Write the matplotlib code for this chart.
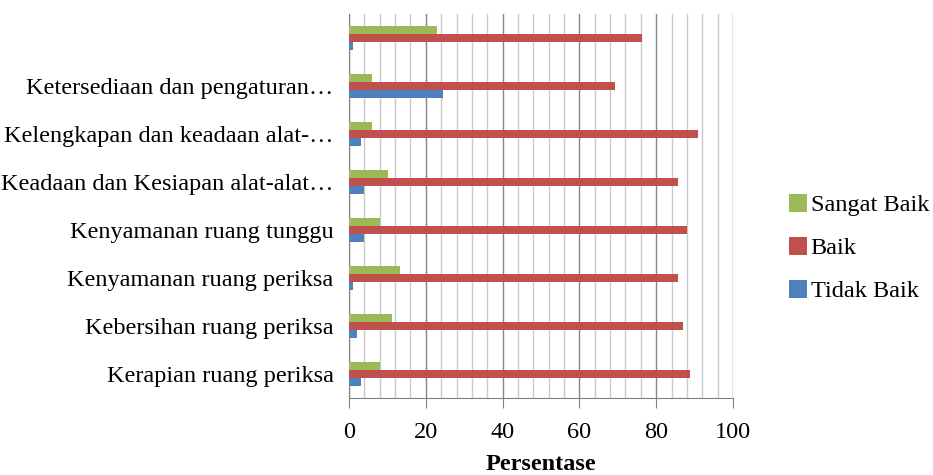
import matplotlib.pyplot as plt
import numpy as np

plt.rcParams['font.family'] = ['Liberation Serif', 'DejaVu Serif']

categories = [
    "Kerapian ruang periksa",
    "Kebersihan ruang periksa",
    "Kenyamanan ruang periksa",
    "Kenyamanan ruang tunggu",
    "Keadaan dan Kesiapan alat-alat…",
    "Kelengkapan dan keadaan alat-…",
    "Ketersediaan dan pengaturan…",
    "",
]
tidak_baik = [3.0, 2.0, 1.0, 4.0, 4.0, 3.0, 24.6, 1.0]
baik = [88.9, 86.9, 85.8, 87.9, 85.8, 90.9, 69.4, 76.2]
sangat_baik = [8.1, 11.1, 13.2, 8.1, 10.2, 6.1, 6.0, 22.8]

fs = 17.5

fig = plt.figure(figsize=(9.33, 4.75), dpi=100)
ax = fig.add_axes([349 / 933, 1 - 398 / 475, 384 / 933, 384 / 475])

y = np.arange(len(categories))
h = 0.17
ax.barh(y - h, tidak_baik, height=h, color='#4F81BD', label='Tidak Baik', zorder=3)
ax.barh(y, baik, height=h, color='#C0504D', label='Baik', zorder=3)
ax.barh(y + h, sangat_baik, height=h, color='#9BBB59', label='Sangat Baik', zorder=3)

ax.set_xlim(0, 100)
ax.set_ylim(-0.5, len(categories) - 0.5)
ax.set_yticks(y)
ax.set_yticklabels(categories, fontsize=fs)
ax.set_xticks(np.arange(0, 101, 20))
ax.set_xticks(np.arange(0, 101, 4), minor=True)
ax.tick_params(axis='x', which='major', labelsize=fs, length=7, color='#808080', pad=10)
ax.tick_params(axis='x', which='minor', length=0)
ax.tick_params(axis='y', length=0, pad=11)

ax.grid(axis='x', which='minor', color='#C8C8C8', linewidth=1.0, zorder=0)
ax.grid(axis='x', which='major', color='#868686', linewidth=1.0, zorder=0)

for s in ['top', 'right']:
    ax.spines[s].set_visible(False)
ax.spines['left'].set_color('#808080')
ax.spines['bottom'].set_color('#808080')

ax.set_xlabel('Persentase', fontsize=fs, fontweight='bold', labelpad=8)

handles, labels = ax.get_legend_handles_labels()
fig.legend(handles[::-1], labels[::-1], loc='center left',
           bbox_to_anchor=(767 / 933, 1 - 248 / 475), frameon=False,
           fontsize=fs, handlelength=0.75, handleheight=0.75,
           handletextpad=0.15, labelspacing=0.85)

fig.savefig('out.png', dpi=100)
